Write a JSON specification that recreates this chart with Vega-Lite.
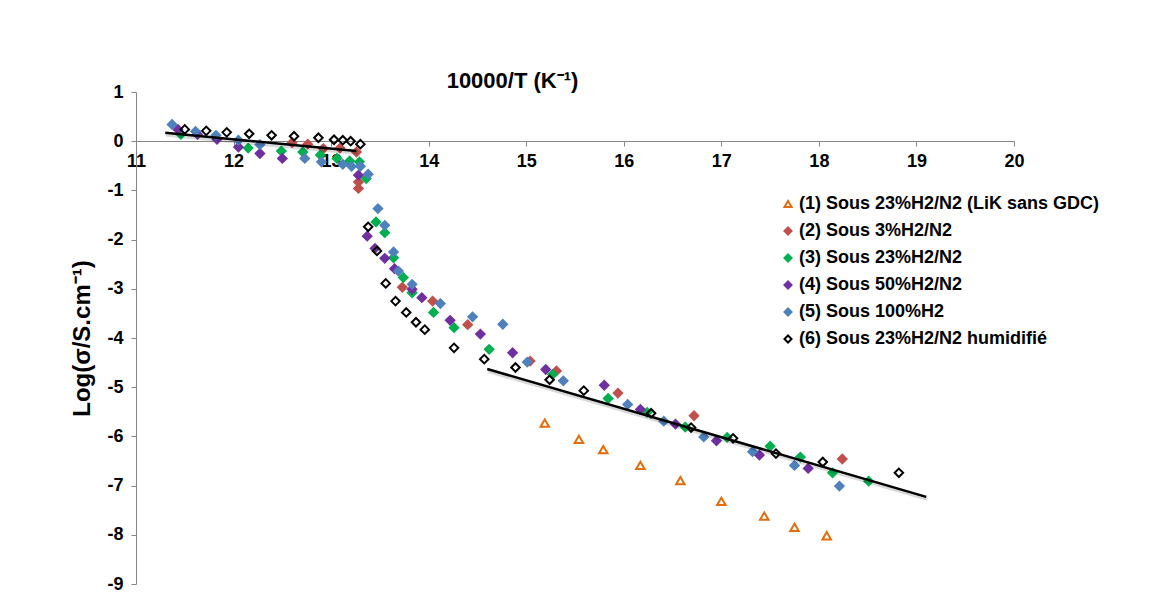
{
  "$schema": "https://vega.github.io/schema/vega-lite/v6.json",
  "width": 878,
  "height": 492,
  "autosize": {"type": "none"},
  "padding": {"left": 136, "top": 92, "right": 154, "bottom": 32},
  "background": "white",
  "config": {
    "font": "Liberation Sans, Arial",
    "view": {"stroke": null},
    "axis": {"grid": false, "domainColor": "#868686", "tickColor": "#868686", "labelColor": "#000000", "titleColor": "#000000", "labelFont": "Liberation Sans, Arial", "titleFont": "Liberation Sans, Arial", "labelFontWeight": "bold", "titleFontWeight": "bold"},
    "legend": {"labelFont": "Liberation Sans, Arial", "labelFontWeight": "bold", "labelColor": "#000000", "labelFontSize": 18, "symbolSize": 50, "symbolStrokeWidth": 2, "symbolOpacity": 1, "rowPadding": 9, "labelOffset": 2, "padding": 0, "labelLimit": 400}
  },
  "datasets": {
    "fit": [
      {"seg": "a", "x": 11.30, "y": 0.17},
      {"seg": "a", "x": 13.26, "y": -0.20},
      {"seg": "b", "x": 14.60, "y": -4.63},
      {"seg": "b", "x": 19.10, "y": -7.23}
    ],
    "pts": [
      {"s": "(2) Sous 3%H2/N2", "x": 12.60, "y": -0.03},
      {"s": "(2) Sous 3%H2/N2", "x": 12.76, "y": -0.06},
      {"s": "(2) Sous 3%H2/N2", "x": 12.92, "y": -0.15},
      {"s": "(2) Sous 3%H2/N2", "x": 13.09, "y": -0.14},
      {"s": "(2) Sous 3%H2/N2", "x": 13.26, "y": -0.22},
      {"s": "(2) Sous 3%H2/N2", "x": 13.28, "y": -0.83},
      {"s": "(2) Sous 3%H2/N2", "x": 13.28, "y": -0.96},
      {"s": "(2) Sous 3%H2/N2", "x": 13.73, "y": -2.97},
      {"s": "(2) Sous 3%H2/N2", "x": 14.04, "y": -3.25},
      {"s": "(2) Sous 3%H2/N2", "x": 14.40, "y": -3.73},
      {"s": "(2) Sous 3%H2/N2", "x": 15.04, "y": -4.47},
      {"s": "(2) Sous 3%H2/N2", "x": 15.31, "y": -4.67},
      {"s": "(2) Sous 3%H2/N2", "x": 15.94, "y": -5.12},
      {"s": "(2) Sous 3%H2/N2", "x": 16.72, "y": -5.58},
      {"s": "(2) Sous 3%H2/N2", "x": 18.24, "y": -6.46},
      {"s": "(3) Sous 23%H2/N2", "x": 11.46, "y": 0.14},
      {"s": "(3) Sous 23%H2/N2", "x": 12.15, "y": -0.14},
      {"s": "(3) Sous 23%H2/N2", "x": 12.49, "y": -0.20},
      {"s": "(3) Sous 23%H2/N2", "x": 12.71, "y": -0.22},
      {"s": "(3) Sous 23%H2/N2", "x": 12.89, "y": -0.28},
      {"s": "(3) Sous 23%H2/N2", "x": 13.06, "y": -0.35},
      {"s": "(3) Sous 23%H2/N2", "x": 13.19, "y": -0.40},
      {"s": "(3) Sous 23%H2/N2", "x": 13.29, "y": -0.42},
      {"s": "(3) Sous 23%H2/N2", "x": 13.36, "y": -0.76},
      {"s": "(3) Sous 23%H2/N2", "x": 13.46, "y": -1.64},
      {"s": "(3) Sous 23%H2/N2", "x": 13.55, "y": -1.86},
      {"s": "(3) Sous 23%H2/N2", "x": 13.64, "y": -2.37},
      {"s": "(3) Sous 23%H2/N2", "x": 13.74, "y": -2.77},
      {"s": "(3) Sous 23%H2/N2", "x": 13.83, "y": -3.08},
      {"s": "(3) Sous 23%H2/N2", "x": 14.05, "y": -3.48},
      {"s": "(3) Sous 23%H2/N2", "x": 14.26, "y": -3.79},
      {"s": "(3) Sous 23%H2/N2", "x": 14.62, "y": -4.23},
      {"s": "(3) Sous 23%H2/N2", "x": 15.27, "y": -4.74},
      {"s": "(3) Sous 23%H2/N2", "x": 15.84, "y": -5.23},
      {"s": "(3) Sous 23%H2/N2", "x": 16.24, "y": -5.51},
      {"s": "(3) Sous 23%H2/N2", "x": 16.63, "y": -5.81},
      {"s": "(3) Sous 23%H2/N2", "x": 17.06, "y": -6.02},
      {"s": "(3) Sous 23%H2/N2", "x": 17.50, "y": -6.20},
      {"s": "(3) Sous 23%H2/N2", "x": 17.81, "y": -6.42},
      {"s": "(3) Sous 23%H2/N2", "x": 18.14, "y": -6.74},
      {"s": "(3) Sous 23%H2/N2", "x": 18.51, "y": -6.91},
      {"s": "(4) Sous 50%H2/N2", "x": 11.43, "y": 0.24},
      {"s": "(4) Sous 50%H2/N2", "x": 11.63, "y": 0.14},
      {"s": "(4) Sous 50%H2/N2", "x": 11.83, "y": 0.04},
      {"s": "(4) Sous 50%H2/N2", "x": 12.05, "y": -0.12},
      {"s": "(4) Sous 50%H2/N2", "x": 12.27, "y": -0.25},
      {"s": "(4) Sous 50%H2/N2", "x": 12.50, "y": -0.35},
      {"s": "(4) Sous 50%H2/N2", "x": 13.28, "y": -0.69},
      {"s": "(4) Sous 50%H2/N2", "x": 13.37, "y": -1.93},
      {"s": "(4) Sous 50%H2/N2", "x": 13.45, "y": -2.18},
      {"s": "(4) Sous 50%H2/N2", "x": 13.55, "y": -2.38},
      {"s": "(4) Sous 50%H2/N2", "x": 13.65, "y": -2.59},
      {"s": "(4) Sous 50%H2/N2", "x": 13.83, "y": -3.01},
      {"s": "(4) Sous 50%H2/N2", "x": 13.93, "y": -3.18},
      {"s": "(4) Sous 50%H2/N2", "x": 14.22, "y": -3.64},
      {"s": "(4) Sous 50%H2/N2", "x": 14.53, "y": -3.92},
      {"s": "(4) Sous 50%H2/N2", "x": 14.86, "y": -4.30},
      {"s": "(4) Sous 50%H2/N2", "x": 15.20, "y": -4.64},
      {"s": "(4) Sous 50%H2/N2", "x": 15.80, "y": -4.96},
      {"s": "(4) Sous 50%H2/N2", "x": 16.17, "y": -5.45},
      {"s": "(4) Sous 50%H2/N2", "x": 16.53, "y": -5.75},
      {"s": "(4) Sous 50%H2/N2", "x": 16.95, "y": -6.09},
      {"s": "(4) Sous 50%H2/N2", "x": 17.39, "y": -6.38},
      {"s": "(4) Sous 50%H2/N2", "x": 17.89, "y": -6.65},
      {"s": "(5) Sous 100%H2", "x": 11.37, "y": 0.34},
      {"s": "(5) Sous 100%H2", "x": 11.61, "y": 0.20},
      {"s": "(5) Sous 100%H2", "x": 11.82, "y": 0.12},
      {"s": "(5) Sous 100%H2", "x": 12.05, "y": 0.02},
      {"s": "(5) Sous 100%H2", "x": 12.27, "y": -0.07},
      {"s": "(5) Sous 100%H2", "x": 12.73, "y": -0.35},
      {"s": "(5) Sous 100%H2", "x": 12.90, "y": -0.42},
      {"s": "(5) Sous 100%H2", "x": 13.12, "y": -0.47},
      {"s": "(5) Sous 100%H2", "x": 13.21, "y": -0.51},
      {"s": "(5) Sous 100%H2", "x": 13.30, "y": -0.51},
      {"s": "(5) Sous 100%H2", "x": 13.38, "y": -0.67},
      {"s": "(5) Sous 100%H2", "x": 13.48, "y": -1.37},
      {"s": "(5) Sous 100%H2", "x": 13.55, "y": -1.71},
      {"s": "(5) Sous 100%H2", "x": 13.64, "y": -2.25},
      {"s": "(5) Sous 100%H2", "x": 13.69, "y": -2.64},
      {"s": "(5) Sous 100%H2", "x": 13.83, "y": -2.91},
      {"s": "(5) Sous 100%H2", "x": 14.12, "y": -3.30},
      {"s": "(5) Sous 100%H2", "x": 14.45, "y": -3.57},
      {"s": "(5) Sous 100%H2", "x": 14.76, "y": -3.72},
      {"s": "(5) Sous 100%H2", "x": 15.01, "y": -4.49},
      {"s": "(5) Sous 100%H2", "x": 15.38, "y": -4.87},
      {"s": "(5) Sous 100%H2", "x": 16.04, "y": -5.35},
      {"s": "(5) Sous 100%H2", "x": 16.41, "y": -5.69},
      {"s": "(5) Sous 100%H2", "x": 16.82, "y": -6.01},
      {"s": "(5) Sous 100%H2", "x": 17.32, "y": -6.31},
      {"s": "(5) Sous 100%H2", "x": 17.75, "y": -6.59},
      {"s": "(5) Sous 100%H2", "x": 18.21, "y": -7.01},
      {"s": "(6) Sous 23%H2/N2 humidifié", "x": 11.50, "y": 0.24},
      {"s": "(6) Sous 23%H2/N2 humidifié", "x": 11.72, "y": 0.21},
      {"s": "(6) Sous 23%H2/N2 humidifié", "x": 11.93, "y": 0.18},
      {"s": "(6) Sous 23%H2/N2 humidifié", "x": 12.16, "y": 0.15},
      {"s": "(6) Sous 23%H2/N2 humidifié", "x": 12.39, "y": 0.12},
      {"s": "(6) Sous 23%H2/N2 humidifié", "x": 12.62, "y": 0.10},
      {"s": "(6) Sous 23%H2/N2 humidifié", "x": 12.87, "y": 0.07},
      {"s": "(6) Sous 23%H2/N2 humidifié", "x": 13.03, "y": 0.03},
      {"s": "(6) Sous 23%H2/N2 humidifié", "x": 13.12, "y": 0.02},
      {"s": "(6) Sous 23%H2/N2 humidifié", "x": 13.20, "y": 0.00},
      {"s": "(6) Sous 23%H2/N2 humidifié", "x": 13.30, "y": -0.06},
      {"s": "(6) Sous 23%H2/N2 humidifié", "x": 13.38, "y": -1.74},
      {"s": "(6) Sous 23%H2/N2 humidifié", "x": 13.47, "y": -2.23},
      {"s": "(6) Sous 23%H2/N2 humidifié", "x": 13.56, "y": -2.89},
      {"s": "(6) Sous 23%H2/N2 humidifié", "x": 13.66, "y": -3.25},
      {"s": "(6) Sous 23%H2/N2 humidifié", "x": 13.77, "y": -3.48},
      {"s": "(6) Sous 23%H2/N2 humidifié", "x": 13.87, "y": -3.68},
      {"s": "(6) Sous 23%H2/N2 humidifié", "x": 13.96, "y": -3.83},
      {"s": "(6) Sous 23%H2/N2 humidifié", "x": 14.26, "y": -4.20},
      {"s": "(6) Sous 23%H2/N2 humidifié", "x": 14.57, "y": -4.43},
      {"s": "(6) Sous 23%H2/N2 humidifié", "x": 14.89, "y": -4.60},
      {"s": "(6) Sous 23%H2/N2 humidifié", "x": 15.24, "y": -4.85},
      {"s": "(6) Sous 23%H2/N2 humidifié", "x": 15.59, "y": -5.07},
      {"s": "(6) Sous 23%H2/N2 humidifié", "x": 16.28, "y": -5.53},
      {"s": "(6) Sous 23%H2/N2 humidifié", "x": 16.69, "y": -5.82},
      {"s": "(6) Sous 23%H2/N2 humidifié", "x": 17.12, "y": -6.04},
      {"s": "(6) Sous 23%H2/N2 humidifié", "x": 17.56, "y": -6.35},
      {"s": "(6) Sous 23%H2/N2 humidifié", "x": 18.04, "y": -6.52},
      {"s": "(6) Sous 23%H2/N2 humidifié", "x": 18.82, "y": -6.74},
      {"s": "(1) Sous 23%H2/N2 (LiK sans GDC)", "x": 15.19, "y": -5.73},
      {"s": "(1) Sous 23%H2/N2 (LiK sans GDC)", "x": 15.54, "y": -6.06},
      {"s": "(1) Sous 23%H2/N2 (LiK sans GDC)", "x": 15.79, "y": -6.27},
      {"s": "(1) Sous 23%H2/N2 (LiK sans GDC)", "x": 16.17, "y": -6.59},
      {"s": "(1) Sous 23%H2/N2 (LiK sans GDC)", "x": 16.58, "y": -6.90},
      {"s": "(1) Sous 23%H2/N2 (LiK sans GDC)", "x": 17.00, "y": -7.32},
      {"s": "(1) Sous 23%H2/N2 (LiK sans GDC)", "x": 17.44, "y": -7.62},
      {"s": "(1) Sous 23%H2/N2 (LiK sans GDC)", "x": 17.75, "y": -7.85},
      {"s": "(1) Sous 23%H2/N2 (LiK sans GDC)", "x": 18.08, "y": -8.02}
    ]
  },
  "layer": [
    {
      "data": {"name": "pts"},
      "mark": {"type": "point", "filled": true, "strokeWidth": 2, "opacity": 1, "size": 72},
      "encoding": {
        "x": {"field": "x", "type": "quantitative", "scale": {"domain": [11, 20], "nice": false, "zero": false},
          "axis": {"orient": "bottom", "offset": -443, "values": [11, 12, 13, 14, 15, 16, 17, 18, 19, 20], "labelExpr": "'' + datum.value", "labelFontSize": 18, "labelPadding": 6, "tickSize": 5, "labelOverlap": false, "labelFlush": false,
            "title": "10000/T (K⁻¹)", "titleFontSize": 22, "titleX": 376, "titleY": -61, "titleAlign": "center", "titleBaseline": "middle", "titleAnchor": null}},
        "y": {"field": "y", "type": "quantitative", "scale": {"domain": [-9, 1], "nice": false, "zero": false},
          "axis": {"values": [-9, -8, -7, -6, -5, -4, -3, -2, -1, 0, 1], "labelExpr": "'' + datum.value", "labelFontSize": 18, "labelPadding": 8, "tickSize": 5,
            "title": "Log(σ/S.cm⁻¹)", "titleFontSize": 24, "titlePadding": 12}},
        "shape": {"field": "s", "type": "nominal", "scale": {"domain": ["(1) Sous 23%H2/N2 (LiK sans GDC)", "(2) Sous 3%H2/N2", "(3) Sous 23%H2/N2", "(4) Sous 50%H2/N2", "(5) Sous 100%H2", "(6) Sous 23%H2/N2 humidifié"], "range": ["triangle-up", "diamond", "diamond", "diamond", "diamond", "diamond"]}, "legend": {"title": null, "orient": "none", "legendX": 643, "legendY": 103}},
        "fill": {"field": "s", "type": "nominal", "scale": {"domain": ["(1) Sous 23%H2/N2 (LiK sans GDC)", "(2) Sous 3%H2/N2", "(3) Sous 23%H2/N2", "(4) Sous 50%H2/N2", "(5) Sous 100%H2", "(6) Sous 23%H2/N2 humidifié"], "range": ["transparent", "#C0504D", "#00B050", "#7030A0", "#4F81BD", "transparent"]}, "legend": {"title": null, "orient": "none", "legendX": 643, "legendY": 103}},
        "stroke": {"field": "s", "type": "nominal", "scale": {"domain": ["(1) Sous 23%H2/N2 (LiK sans GDC)", "(2) Sous 3%H2/N2", "(3) Sous 23%H2/N2", "(4) Sous 50%H2/N2", "(5) Sous 100%H2", "(6) Sous 23%H2/N2 humidifié"], "range": ["#E46C0A", "#C0504D", "#00B050", "#7030A0", "#4F81BD", "#000000"]}, "legend": {"title": null, "orient": "none", "legendX": 643, "legendY": 103}}
      }
    },
    {
      "data": {"name": "fit"},
      "mark": {"type": "line", "color": "#000000", "strokeWidth": 4, "opacity": 0.15, "xOffset": 1, "yOffset": 2},
      "encoding": {
        "x": {"field": "x", "type": "quantitative"},
        "y": {"field": "y", "type": "quantitative"},
        "detail": {"field": "seg"}
      }
    },
    {
      "data": {"name": "fit"},
      "mark": {"type": "line", "color": "#000000", "strokeWidth": 2.5},
      "encoding": {
        "x": {"field": "x", "type": "quantitative"},
        "y": {"field": "y", "type": "quantitative"},
        "detail": {"field": "seg"}
      }
    }
  ]
}
